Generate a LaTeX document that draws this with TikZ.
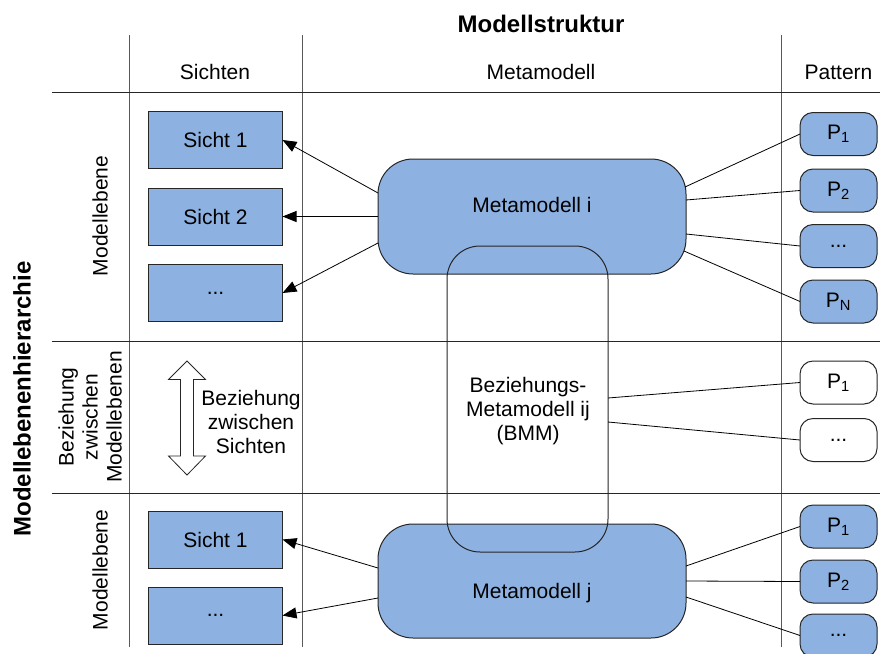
\documentclass[tikz,border=0pt]{standalone}
\usepackage{fontspec}
\setmainfont{Liberation Sans}
\usetikzlibrary{arrows.meta}
\definecolor{boxblue}{RGB}{141,177,225}
\begin{document}
\begin{tikzpicture}[x=1pt,y=-1pt,
  every node/.style={font=\fontsize{21}{24}\selectfont, inner sep=0pt, outer sep=0pt},
  sicht/.style={draw=black!85, line width=1pt, fill=boxblue, minimum width=134pt, minimum height=57pt},
  meta/.style={draw=black!85, line width=1pt, fill=boxblue, rounded corners=35pt, minimum width=308pt, minimum height=115pt},
  pat/.style={draw=black!85, line width=1pt, rounded corners=13pt, minimum width=77pt, minimum height=43pt, fill=white},
  patb/.style={pat, fill=boxblue},
  hgrid/.style={line width=1pt, black!85},
  vgrid/.style={line width=1pt, black!65},
  conn/.style={line width=0.8pt, black},
  arr/.style={conn, -{Triangle[length=14pt,width=11pt]}},
  lbl/.style={align=center},
  ttl/.style={font=\bfseries\fontsize{24}{28}\selectfont},
]
\path[use as bounding box] (0,0) rectangle (880,653);
\clip (0,0) rectangle (880,653);

% grid
\draw[vgrid] (129,35) -- (129,647);
\draw[vgrid] (302,35) -- (302,647);
\draw[vgrid] (781,35) -- (781,647);
\draw[hgrid] (52,92) -- (880,92);
\draw[hgrid] (52,341) -- (880,341);
\draw[hgrid] (52,493) -- (880,493);

% titles and headers
\node[ttl] (title) at (541,24) {Modellstruktur};
\node[ttl, rotate=90] (hier) at (22,399) {Modellebenenhierarchie};
\node (hs) at (215,72) {Sichten};
\node (hm) at (541,72) {Metamodell};
\node (hp) at (838.5,72) {Pattern};

% row labels
\node[rotate=90] (ml1) at (100,216) {Modellebene};
\node[rotate=90, lbl] (mlb) at (90,417) {Beziehung\\zwischen\\Modellebenen};
\node[rotate=90] (ml2) at (100,570) {Modellebene};

% sicht boxes
\node[sicht] (s1) at (215.5,140) {Sicht 1};
\node[sicht] (s2) at (215.5,216.5) {Sicht 2};
\node[sicht] (s3) at (215.5,293) {...};
\node[sicht] (b1) at (215.5,539.5) {Sicht 1};
\node[sicht] (b2) at (215.5,615.5) {...};

% double arrow
\draw[line width=0.8pt, black!85, fill=white] (187,361) -- (205.5,379.5) -- (193.5,379.5) -- (193.5,456) -- (205.5,456) -- (187,475) -- (168.5,456) -- (180.5,456) -- (180.5,379.5) -- (168.5,379.5) -- cycle;
\node[lbl] (bzs) at (251,422) {Beziehung\\zwischen\\Sichten};

% metamodels
\node[meta] (mmi) at (532,216.5) {};
\node (mmit) at (532,205) {Metamodell i};
\node[meta, minimum height=114pt] (mmj) at (532,581) {};
\node (mmjt) at (532,593) {Metamodell j};
\node[draw=black!85, line width=1pt, rounded corners=33pt, minimum width=161pt, minimum height=306pt] (bmm) at (527.5,399) {};
\node[lbl] (bmmt) at (528,411) {Beziehungs-\\Metamodell ij\\(BMM)};

% pattern boxes
\node[patb] (p1) at (838.5,134) {P\textsubscript{1}};
\node[patb] (p2) at (838.5,190.5) {P\textsubscript{2}};
\node[patb] (p3) at (838.5,246) {...};
\node[patb] (p4) at (838.5,301.5) {P\textsubscript{N}};
\node[pat] (q1) at (838.5,382.5) {P\textsubscript{1}};
\node[pat] (q2) at (838.5,440) {...};
\node[patb] (r1) at (838.5,526.5) {P\textsubscript{1}};
\node[patb] (r2) at (838.5,581.5) {P\textsubscript{2}};
\node[patb] (r3) at (838.5,635.5) {...};

% connectors top
\draw[arr] ([yshift=23.5pt]mmi.west) -- (s1.east);
\draw[arr] (mmi.west) -- (s2.east);
\draw[arr] ([yshift=-26.5pt]mmi.west) -- (s3.east);
\draw[conn] ([yshift=29.5pt,xshift=-1pt]mmi.east) -- (p1.west);
\draw[conn] ([yshift=16.5pt]mmi.east) -- (p2.west);
\draw[conn] ([yshift=-17.5pt]mmi.east) -- (p3.west);
\draw[conn] ([yshift=-34.5pt,xshift=-2pt]mmi.east) -- (p4.west);

% connectors middle
\draw[conn] ([yshift=1pt]bmm.east) -- (q1.west);
\draw[conn] ([yshift=-23pt]bmm.east) -- (q2.west);

% connectors bottom
\draw[arr] ([yshift=13pt]mmj.west) -- (b1.east);
\draw[arr] ([yshift=-17pt]mmj.west) -- (b2.east);
\draw[conn] ([yshift=15pt]mmj.east) -- (r1.west);
\draw[conn] (mmj.east) -- (r2.west);
\draw[conn] ([yshift=-16pt]mmj.east) -- (r3.west);
\end{tikzpicture}
\end{document}
